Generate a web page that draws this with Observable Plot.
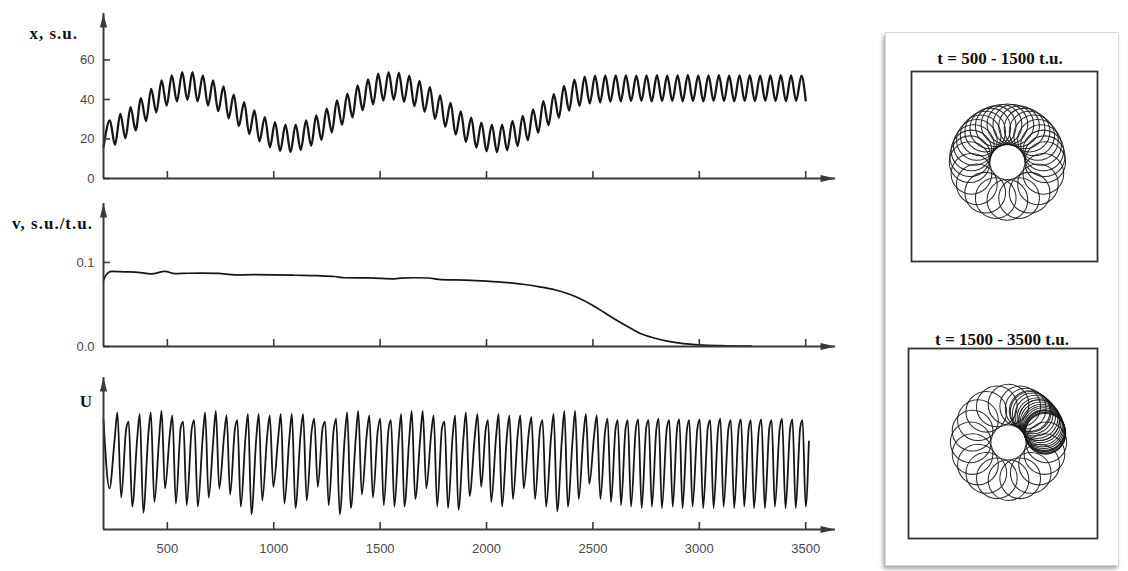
<!DOCTYPE html>
<html><head><meta charset="utf-8">
<script src="https://cdn.jsdelivr.net/npm/d3@7"></script>
<script src="https://cdn.jsdelivr.net/npm/@observablehq/plot@0.6"></script>
<style>
body{margin:0;background:#fff;}
#page{position:relative;width:1128px;height:571px;overflow:hidden;background:#fff;}
#card{position:absolute;left:885px;top:32px;width:232px;height:532px;border:1px solid #d8d8d8;box-shadow:-2px 3px 4px rgba(0,0,0,0.35);background:#fff;}
.lab{position:absolute;font-family:'Liberation Serif','Times New Roman',serif;font-weight:bold;font-size:17px;line-height:17px;color:#111;white-space:nowrap;}
.ax{letter-spacing:1px;text-align:right;}
.ttl{text-align:center;width:220px;}
</style></head><body><div id="page"><div id="card"></div></div>
<script>
// ---------- data ----------
const xTicks = [500, 1000, 1500, 2000, 2500, 3000, 3500];
const xTickLabels = ["500", "1000", "1500", "2000", "2500", "3000", "3500"];
const xPosTicks = [0, 20, 40, 60];
const xPosTickLabels = ["0", "20", "40", "60"];
const vTicks = [0, 0.1];
const vTickLabels = ["0.0", "0.1"];

// x(t): successive extrema of the coordinate (s.u.)
const xTime = [
  200,230,254,279,303,327,351,376,400,424,
  448,473,497,521,545,570,594,618,642,667,
  691,715,739,764,788,812,836,861,885,909,
  933,958,982,1006,1030,1055,1079,1103,1127,1152,
  1176,1200,1224,1249,1273,1297,1321,1346,1370,1394,
  1418,1443,1467,1491,1515,1540,1564,1588,1612,1637,
  1661,1685,1709,1734,1758,1782,1806,1831,1855,1879,
  1903,1928,1952,1976,2000,2025,2049,2073,2097,2122,
  2146,2170,2194,2219,2243,2267,2291,2316,2340,2364,
  2388,2413,2437,2461,2485,2510,2534,2558,2582,2607,
  2631,2655,2679,2704,2728,2752,2776,2801,2825,2849,
  2873,2898,2922,2946,2970,2995,3019,3043,3067,3092,
  3116,3140,3164,3189,3213,3237,3261,3286,3310,3334,
  3358,3383,3407,3431,3455,3480,3500];
const xValue = [
  16,29.4,17,32.7,20.4,36.1,24.4,40.7,29,45.4,
  33.5,49.6,36.9,52.2,39,53.8,39.8,53.8,39,52.2,
  36.9,49.6,34.1,46.6,30.5,42.4,26.5,38.6,22.5,34.4,
  18.8,31.1,15.8,28.5,13.9,27.3,13.3,27.3,14.4,29.4,
  16.6,31.9,19.6,35.3,23.4,39.5,27.2,42.9,31,47.1,
  34.6,50.1,37.5,53,39.4,53.8,39.8,53.6,38.8,52,
  36.6,49.4,33.8,46.2,30.2,42,26.2,38.2,22.2,34,
  18.6,30.8,15.6,28.3,13.8,27.2,13.3,27.3,14.3,29.2,
  16.4,31.7,19.4,35,23.2,39.2,27,42.7,30.8,46.8,
  34.4,50,36.8,51.5,38,52,38.5,52.2,38.9,52.2,
  39.1,52.2,39.2,52,39.3,52.2,39,52.3,39.2,52,
  39.3,52.2,39.1,52.4,39.2,52.1,39,52.2,39.3,52.3,
  39.2,52,39.1,52.2,39.3,52.3,39.1,52.1,39.3,52.2,
  39.2,52.3,39.1,52.2,39.3,52.1,39.5];

// v(t), s.u./t.u.
const vTime = [200,212,238,300,348,426,489,536,600,661,
  739,817,900,1005,1100,1208,1286,1333,1443,1568,
  1599,1660,1725,1787,1900,2000,2100,2180,2250,2320,
  2380,2430,2500,2550,2600,2650,2700,2726,2775,2850,
  2925,3000,3100,3245];
const vValue = [0.0786,0.085,0.0893,0.0888,0.0885,0.0865,0.0895,0.0868,0.0872,0.0873,
  0.087,0.0852,0.0855,0.0853,0.0848,0.0843,0.0833,0.0818,0.0817,0.0806,
  0.0813,0.0818,0.0815,0.0797,0.079,0.0778,0.076,0.0738,0.071,0.0675,
  0.063,0.058,0.0488,0.041,0.033,0.0255,0.0185,0.0151,0.011,0.0063,
  0.0035,0.002,0.001,0.0004];

// U(t): deep minima (time, depth) and per-cycle knee and peak levels (arbitrary units)
const uStart = [200, 0.72];
const uEnd = [3515, 0.58];
const uTrough = [228,283,335,387,439,489,540,591,643,694,744,795,845,895,946,998,1050,1102,1155,1207,1258,1310,1362,1414,1466,1517,1567,
  1614,1665,1717,1768,1819,1868,1920,1975,2022,2073,2124,2175,2228,2280,2332,2382,2433,2483,2535,2585,
  2632,2679,2729,2777,2824,2875,2921,2968,3018,3067,3114,3164,3211,3257,3308,3355,3405,3453,3500];
const uDepth = [0.27,0.21,0.15,0.11,0.18,0.27,0.17,0.16,0.15,0.21,0.27,0.23,0.15,0.10,0.19,0.28,0.17,0.14,0.19,0.28,0.16,0.10,0.14,0.23,0.21,0.16,0.15,
  0.15,0.2,0.27,0.15,0.14,0.13,0.22,0.28,0.18,0.15,0.2,0.27,0.2,0.15,0.12,0.15,0.2,0.3,0.2,0.18,
  0.16,0.15,0.14,0.15,0.14,0.15,0.14,0.15,0.14,0.14,0.15,0.14,0.15,0.14,0.14,0.15,0.14,0.14,0.15];
const uPeak = [0.77,0.71,0.76,0.77,0.78,0.75,0.71,0.72,0.77,0.78,0.75,0.72,0.76,0.76,0.75,0.76,0.76,0.76,0.73,0.71,0.73,0.77,0.78,0.75,0.73,0.72,0.76,
  0.78,0.78,0.75,0.71,0.75,0.77,0.76,0.72,0.76,0.75,0.75,0.74,0.72,0.76,0.78,0.78,0.76,0.75,0.73,0.72,
  0.72,0.725,0.72,0.73,0.72,0.725,0.72,0.725,0.72,0.73,0.72,0.725,0.72,0.725,0.72,0.73,0.725,0.72];
const uKnee = [0.6,0.66,0.6,0.62,0.6,0.63,0.67,0.66,0.6,0.6,0.62,0.66,0.61,0.6,0.62,0.61,0.6,0.62,0.65,0.67,0.65,0.6,0.6,0.63,0.65,0.66,0.61,
  0.6,0.6,0.63,0.67,0.62,0.6,0.61,0.66,0.61,0.62,0.63,0.64,0.66,0.61,0.6,0.6,0.62,0.63,0.65,0.66,
  0.66,0.66,0.67,0.66,0.66,0.67,0.66,0.66,0.67,0.66,0.66,0.67,0.66,0.66,0.67,0.66,0.66,0.67];

// trajectories: loop centres on a ring (angle, degrees), ring and loop radii in s.u.
const ringCentre = [33, 33];
const ringRadius = 13;
const loopRadius = 7;
const loopAngles1 = [0,9,18,27,36,45,54,63,72,81,90,99,108,117,126,135,144,153,162,171,180,198,216,234,252,270,288,306,324,342];
const loopAngles2 = [90,108,126,144,162,180,198,216,234,252,270,288,306,324,342,0,18,36,54,72,
  63,56,50,45,40,36,32,28,25,22,19,17,15,14,13];
const titles = ["t = 500 - 1500 t.u.", "t = 1500 - 3500 t.u."];
const axisLabels = ["x, s.u.", "v, s.u./t.u.", "U"];

// ---------- drawing ----------
const INK = "#161616", AX = "#3a3a3a";
const SANS = "'Liberation Sans', Arial, sans-serif";
const xDomain = [200, 3640];
const page = document.getElementById("page");

const arrowUp = {draw(c){c.moveTo(0,0);c.lineTo(3.6,14);c.lineTo(-3.6,14);c.closePath();}};
const arrowRight = {draw(c){c.moveTo(0,0);c.lineTo(-15,-3.6);c.lineTo(-15,3.6);c.closePath();}};

function place(el, left, top){el.style.position="absolute";el.style.left=left+"px";el.style.top=top+"px";page.appendChild(el);}

function leftPanel({top, height, mt, mb, yDomain, yTicks, yLabels, series, sw, curve, xLabels}){
  const [y0, y1] = yDomain;
  const marks = [
    Plot.line(series, {x: "t", y: "v", stroke: INK, strokeWidth: sw, curve}),
    Plot.ruleY([y0], {x1: xDomain[0], x2: xDomain[1], stroke: AX, strokeWidth: 2}),
    Plot.ruleX([xDomain[0]], {y1: y0, y2: y1, stroke: AX, strokeWidth: 2}),
    Plot.ruleX(xTicks, {x: d => d, y1: y0, y2: y0, insetBottom: 7, stroke: AX, strokeWidth: 1.6}),
    Plot.dot([xDomain[1]], {x: d => d, y: y0, symbol: arrowRight, fill: AX, stroke: "none"}),
    Plot.dot([y1], {x: xDomain[0], y: d => d, symbol: arrowUp, fill: AX, stroke: "none"})
  ];
  if (yTicks.length){
    marks.push(Plot.ruleY(yTicks, {y: d => d, x1: xDomain[0], x2: xDomain[0], insetRight: -7, stroke: AX, strokeWidth: 1.6}));
    marks.push(Plot.text(yTicks, {x: xDomain[0], y: d => d, text: (d, i) => yLabels[i], dx: -9, textAnchor: "end", fontSize: 13, fill: "#4a4a4a", fontFamily: SANS}));
  }
  if (xLabels) marks.push(Plot.text(xTicks, {x: d => d, y: y0, text: (d, i) => xLabels[i], dy: 19, fontSize: 13, fill: "#4a4a4a", fontFamily: SANS}));
  const svg = Plot.plot({width: 860, height, marginLeft: 103, marginRight: 25, marginTop: mt, marginBottom: mb,
    x: {domain: xDomain, axis: null}, y: {domain: yDomain, axis: null},
    style: {background: "transparent", overflow: "visible"}, marks});
  place(svg, 0, top);
}

const xSeries = xTime.map((t, i) => ({t, v: xValue[i]}));
const vSeries = vTime.map((t, i) => ({t, v: vValue[i]}));
const uSeries = [{t: uStart[0], v: uStart[1]}];
uTrough.forEach((t, i) => {
  uSeries.push({t, v: uDepth[i]});
  if (i < uTrough.length - 1){
    const d = uTrough[i + 1] - t;
    uSeries.push({t: t + 0.45 * d, v: uKnee[i]});
    uSeries.push({t: t + 0.68 * d, v: uPeak[i]});
  }
});
uSeries.push({t: uEnd[0], v: uEnd[1]});

leftPanel({top: 0, height: 190, mt: 13, mb: 12, yDomain: [0, 83.5], yTicks: xPosTicks, yLabels: xPosTickLabels, series: xSeries, sw: 2.3, curve: "monotone-x"});
leftPanel({top: 190, height: 170, mt: 13, mb: 14, yDomain: [0, 0.1702], yTicks: vTicks, yLabels: vTickLabels, series: vSeries, sw: 1.7, curve: "monotone-x"});
leftPanel({top: 360, height: 211, mt: 17, mb: 42, yDomain: [0, 1], yTicks: [], yLabels: [], series: uSeries, sw: 1.8, curve: "monotone-x", xLabels: xTickLabels});

function loopPlot({left, top, ml, mr, mt, mb, xd, yd, angles}){
  const w = 215, h = 230;
  const k = (w - ml - mr) / (xd[1] - xd[0]);
  const loops = angles.map(a => ({
    x: ringCentre[0] + ringRadius * Math.cos(a * Math.PI / 180),
    y: ringCentre[1] + ringRadius * Math.sin(a * Math.PI / 180),
    r: loopRadius
  }));
  const svg = Plot.plot({width: w, height: h, marginLeft: ml, marginRight: mr, marginTop: mt, marginBottom: mb,
    x: {domain: xd, axis: null}, y: {domain: yd, axis: null},
    r: {type: "linear", domain: [0, 10], range: [0, 10 * k]},
    style: {background: "transparent", overflow: "visible"},
    marks: [
      Plot.dot(loops, {x: "x", y: "y", r: "r", stroke: INK, strokeWidth: 1.05, strokeOpacity: 0.9, fill: "none"}),
      Plot.frame({stroke: "#333", strokeWidth: 1.8})
    ]});
  place(svg, left, top);
}
loopPlot({left: 895, top: 40, ml: 16, mr: 13, mt: 31, mb: 9, xd: [0, 64], yd: [-1.2, 64.2], angles: loopAngles1});
loopPlot({left: 895, top: 318, ml: 13, mr: 13, mt: 30, mb: 10, xd: [-1.4, 63.6], yd: [-0.1, 65.3], angles: loopAngles2});

function label(text, cls, css){const d=document.createElement("div");d.className="lab "+cls;d.textContent=text;Object.assign(d.style,css);page.appendChild(d);}
label(axisLabels[0], "ax", {right: "1050px", top: "25px"});
label(axisLabels[1], "ax", {right: "1035px", top: "215px"});
label(axisLabels[2], "ax", {right: "1036px", top: "393px", letterSpacing: "0"});
label(titles[0], "ttl", {left: "890px", top: "50px"});
label(titles[1], "ttl", {left: "892px", top: "331px"});
</script></body></html>
